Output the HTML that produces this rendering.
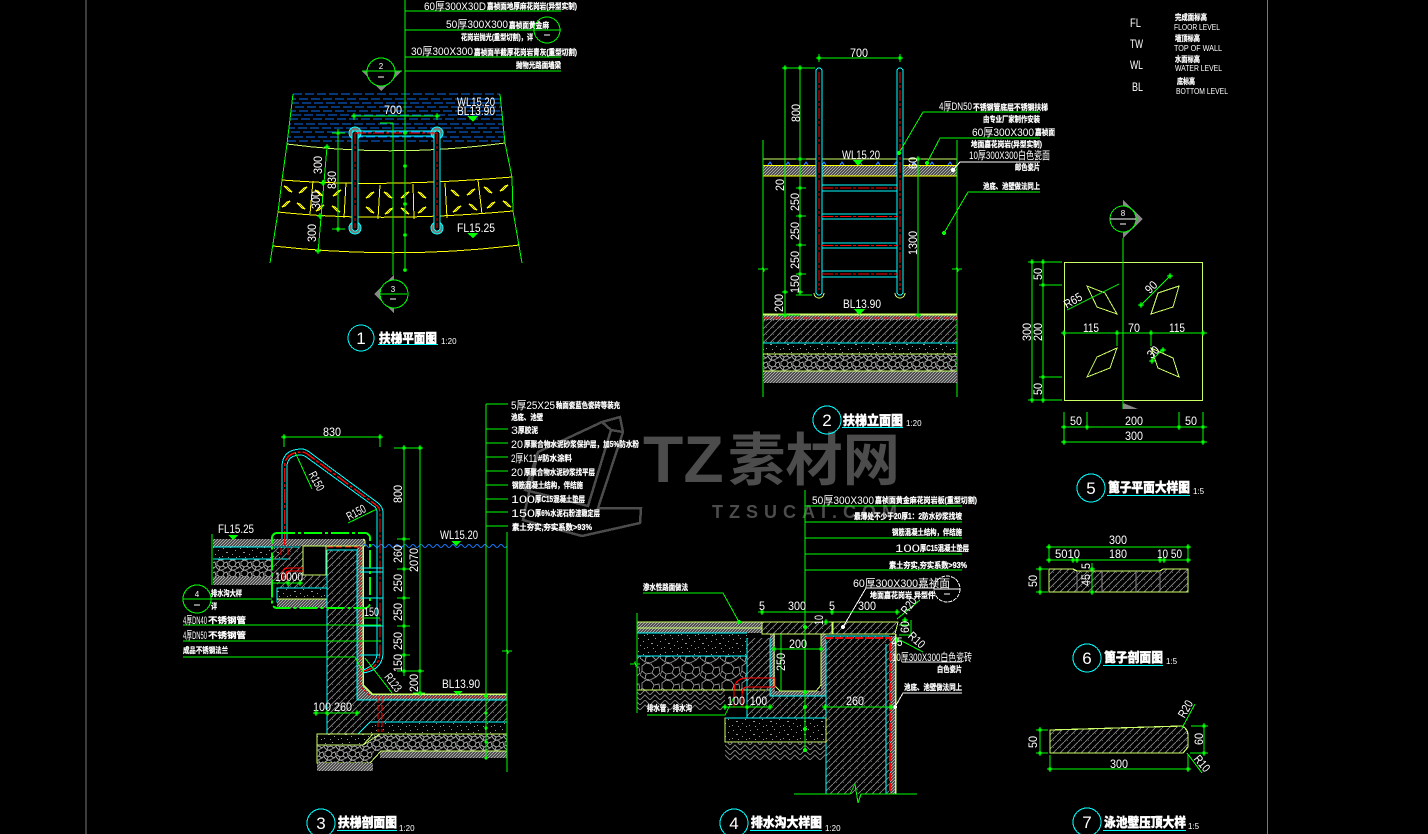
<!DOCTYPE html>
<html><head><meta charset="utf-8"><title>扶梯大样图</title>
<style>
html,body{margin:0;padding:0;background:#000;width:1428px;height:834px;overflow:hidden}
svg{display:block;position:absolute;left:0;top:0}
text{fill:#fff;font-family:"Liberation Sans","Noto Sans CJK SC",sans-serif}
.n{font-size:12px;text-anchor:middle}
.l{font-size:12px}
.c{font-family:"Liberation Sans","Noto Sans CJK SC",sans-serif;font-size:8px;font-weight:700;stroke:#fff;stroke-width:.25}
.t{font-family:"Noto Sans CJK SC",sans-serif;font-size:13px;font-weight:900;stroke:#fff;stroke-width:.4}
.s{font-size:8px}
.big{font-size:17px;text-anchor:middle}
.g{stroke:#0f0;fill:none;stroke-width:1}
.cy{stroke:#0ff;fill:none;stroke-width:1}
.r{stroke:#f00;fill:none;stroke-width:1.4;stroke-dasharray:11 2 3 2}
.y{stroke:#ff0;fill:none;stroke-width:1}
.yg{stroke:#ccff66;fill:none;stroke-width:1}
.w{stroke:#fff;fill:none;stroke-width:1}
</style></head><body>
<svg width="1428" height="834" viewBox="0 0 1428 834" xmlns="http://www.w3.org/2000/svg" shape-rendering="crispEdges">
<defs>
<pattern id="hatch" width="7" height="7" patternUnits="userSpaceOnUse"><path d="M0 7L7 0" stroke="#777" stroke-width="1"/><path d="M3 5h1v1H3z" fill="#555"/></pattern>
<pattern id="dense" width="3" height="3" patternUnits="userSpaceOnUse"><rect width="3" height="3" fill="#505050"/><path d="M0 0h1v1H0zM2 1h1v1H2zM1 2h1v1H1z" fill="#aaa"/></pattern>
<pattern id="conc" width="17" height="13" patternUnits="userSpaceOnUse"><path d="M2 2h1v1H2zM9 1h1v1H9zM14 4h1v1h-1zM5 6h2v1H5zM11 8h1v1h-1zM1 10h1v1H1zM7 11h1v1H7zM15 11h1v1h-1z" fill="#999"/></pattern>
<pattern id="stone" width="20" height="17" patternUnits="userSpaceOnUse"><path d="M2 3L6 0L11 1L14 5L12 10L6 11L2 8ZM14 5L19 4L20 10L16 14L12 10M6 11L5 16L10 17L16 14M2 8L0 12L5 16" fill="none" stroke="#888" stroke-width="1"/></pattern>
<pattern id="stone2" width="12" height="10" patternUnits="userSpaceOnUse"><path d="M1 2L4 0L7 1L8 3L7 6L4 7L1 5ZM8 3L11 2L12 6L10 8L7 6M4 7L3 10L6 10L10 8M1 5L0 7L3 10" fill="none" stroke="#999" stroke-width="1"/></pattern>
<pattern id="herr" width="10" height="10" patternUnits="userSpaceOnUse"><path d="M0 5L5 0L10 5M0 10L5 5L10 10" fill="none" stroke="#777" stroke-width="1"/></pattern>
<path id="t" d="M-3 0H3M0 -3V3M-1 -1H1V1H-1Z" stroke="#0f0" fill="#0f0"/>
<path id="l1" d="M-4 -3L-1 -2L4 3L1 2Z" fill="none" stroke="#ff0"/>
<path id="l2" d="M4 -3L1 -2L-4 3L-1 2Z" fill="none" stroke="#ff0"/>
<path id="br" d="M-5 0H-1L0 -2L1 2L2 0H5" fill="none" stroke="#0f0"/>
</defs>

<!-- frame -->
<path d="M86 0V834M1267.5 0V834" stroke="#777" fill="none"/>

<!-- watermark -->
<g>
<path d="M538 452L602 422L620 417L623 432L598 508L641 508L640 523L582 536L523 520ZM602 422L611 430L623 432M611 430L588 506L525 490L538 452" fill="none" stroke="#4c4c4c" stroke-width="2.5"/>
<text x="643" y="482" style="font-size:66px;font-weight:700;fill:#4c4c4c">TZ</text>
<text x="728" y="480" textLength="172" lengthAdjust="spacingAndGlyphs" style="font-family:'Noto Sans CJK SC',sans-serif;font-size:57px;font-weight:700;fill:#4c4c4c">素材网</text>
<text x="712" y="518" textLength="185" style="font-size:18px;font-weight:700;fill:#4c4c4c">TZSUCAI.COM</text>
</g>

<!-- ========== DIAGRAM 1 ========== -->
<g>
<g stroke="#0a6cf0" fill="none" stroke-dasharray="9 3">
<path d="M293 94H500"/><path d="M292 99H501" stroke-dashoffset="5"/><path d="M292 103H501" stroke-dashoffset="2"/><path d="M291 107H502" stroke-dashoffset="8"/><path d="M291 111H502" stroke-dashoffset="4"/><path d="M290 115H503" stroke-dashoffset="10"/><path d="M290 119H503" stroke-dashoffset="1"/><path d="M289 124H503" stroke-dashoffset="7"/><path d="M289 128H504" stroke-dashoffset="3"/><path d="M288 132H504" stroke-dashoffset="9"/><path d="M288 137H504" stroke-dashoffset="6"/><path d="M287 141H505"/>
</g>
<path class="g" d="M293 94L287 144L282 180L278 212L270 263M500 94L505 143L512 177L513 211L522 263"/>
<path class="yg" d="M287 144Q393 158 505 143"/>
<path class="y" d="M282 180Q380 188 512 177M278 212Q380 223 513 211M273 246Q400 260 519 245"/>
<path class="y" d="M313 181L310 214M346 183L344 218M380 185L378 219M413 184L414 219M445 183L447 218M478 180L482 214"/>
<use href="#l1" x="288" y="189"/><use href="#l2" x="303" y="190"/><use href="#l2" x="286" y="204"/><use href="#l1" x="301" y="206"/>
<use href="#l1" x="319" y="193"/><use href="#l2" x="337" y="193"/><use href="#l2" x="320" y="208"/><use href="#l1" x="336" y="209"/>
<use href="#l2" x="370" y="195"/><use href="#l1" x="388" y="195"/><use href="#l1" x="370" y="210"/><use href="#l2" x="389" y="211"/>
<use href="#l2" x="405" y="195"/><use href="#l1" x="422" y="195"/><use href="#l1" x="405" y="211"/><use href="#l2" x="422" y="210"/>
<use href="#l1" x="455" y="193"/><use href="#l2" x="471" y="192"/><use href="#l2" x="457" y="209"/><use href="#l1" x="473" y="207"/>
<use href="#l1" x="488" y="190"/><use href="#l2" x="504" y="188"/><use href="#l2" x="491" y="205"/><use href="#l1" x="507" y="204"/>
<!-- rails -->
<circle cx="355" cy="133" r="6" fill="#777" stroke="#0ff"/><circle cx="437" cy="133" r="6" fill="#777" stroke="#0ff"/>
<circle cx="355" cy="228" r="6" fill="#777" stroke="#0ff"/><circle cx="437" cy="228" r="6" fill="#777" stroke="#0ff"/>
<rect x="352" y="131" width="6" height="100" rx="3" fill="#000" stroke="#0ff"/><rect x="434" y="131" width="6" height="100" rx="3" fill="#000" stroke="#0ff"/>
<path class="cy" d="M352 131H440M358 136H434"/>
<path class="r" d="M355 133H437M355 133V228M437 133V228"/>
<!-- leader -->
<path class="g" d="M405 0V270M405 11H561M405 30H561M405 57H561M405 71H561"/>
<circle cx="405" cy="133" r="1.8" fill="#0f0"/><circle cx="405" cy="166" r="1.8" fill="#0f0"/><circle cx="405" cy="204" r="1.8" fill="#0f0"/><circle cx="405" cy="235" r="1.8" fill="#0f0"/><circle cx="405" cy="270" r="1.8" fill="#0f0"/>
<text class="l" x="424" y="10" textLength="62" lengthAdjust="spacingAndGlyphs" style="font-size:11px">60厚300X30D</text>
<text class="c" x="487" y="9" textLength="90" lengthAdjust="spacingAndGlyphs">嘉祯面地厚麻花岗岩(异型实制)</text>
<text class="l" x="446" y="28" textLength="62" lengthAdjust="spacingAndGlyphs" style="font-size:11px">50厚300X300</text>
<text class="c" x="509" y="28" textLength="40" lengthAdjust="spacingAndGlyphs">嘉祯面黄金麻</text>
<text class="c" x="461" y="40" textLength="72" lengthAdjust="spacingAndGlyphs">花岗岩抛光(重型切割)，详</text>
<text class="l" x="411" y="55" textLength="62" lengthAdjust="spacingAndGlyphs" style="font-size:11px">30厚300X300</text>
<text class="c" x="474" y="55" textLength="103" lengthAdjust="spacingAndGlyphs">嘉祯面半截厚花岗岩青灰(重型切割)</text>
<text class="c" x="516" y="68" textLength="45" lengthAdjust="spacingAndGlyphs">抛物光路面墙梁</text>
<circle cx="547" cy="30" r="13" fill="none" stroke="#0f0"/><path class="w" d="M544 35H550"/>
<!-- section markers -->
<path d="M362 71H402L381 91Z" fill="#888"/><path d="M362 71H402" stroke="#0f0"/>
<circle cx="381" cy="72" r="14" fill="#000" stroke="#0f0"/><path d="M367 71H395" stroke="#0f0"/>
<text class="s" x="381" y="69" text-anchor="middle">2</text><path class="w" d="M378 77H384"/>
<path class="g" d="M393 123V275M380 123H393"/>
<path d="M374 294L394 275V313Z" fill="#888"/>
<circle cx="394" cy="294" r="14" fill="#000" stroke="#0f0"/><path d="M380 294H407" stroke="#0f0"/>
<text class="s" x="393" y="292" text-anchor="middle">3</text><path class="w" d="M390 299H396"/>
<!-- dims -->
<path class="g" d="M354 116H439M354 113V120M437 113V120M338 129V231M332 133H345M332 229H345M327 147L318 253M322 181H326M318 216H324"/>
<use href="#t" x="354" y="116"/><use href="#t" x="437" y="116"/><use href="#t" x="338" y="133"/><use href="#t" x="338" y="229"/><use href="#t" x="327" y="147"/><use href="#t" x="323" y="183"/><use href="#t" x="320" y="216"/><use href="#t" x="318" y="251"/>
<text class="n" x="393" y="114" textLength="18" lengthAdjust="spacingAndGlyphs">700</text>
<text class="n" transform="translate(322,165) rotate(-90)" textLength="18" lengthAdjust="spacingAndGlyphs">300</text>
<text class="n" transform="translate(336,180) rotate(-90)" textLength="18" lengthAdjust="spacingAndGlyphs">830</text>
<text class="n" transform="translate(320,200) rotate(-90)" textLength="18" lengthAdjust="spacingAndGlyphs">300</text>
<text class="n" transform="translate(316,233) rotate(-90)" textLength="18" lengthAdjust="spacingAndGlyphs">300</text>
<text class="l" x="457" y="106" textLength="38" lengthAdjust="spacingAndGlyphs">WL15.20</text>
<text class="l" x="457" y="115" textLength="38" lengthAdjust="spacingAndGlyphs">BL13.90</text>
<path d="M467 116H478L473 122Z" fill="#0f0"/>
<text class="l" x="457" y="232" textLength="38" lengthAdjust="spacingAndGlyphs">FL15.25</text>
<path d="M467 233H478L473 238Z" fill="#0f0"/>
<!-- title -->
<circle cx="361" cy="338" r="13" fill="none" stroke="#0ff"/>
<text class="big" x="361" y="344">1</text>
<text class="t" x="379" y="343" textLength="58" lengthAdjust="spacingAndGlyphs">扶梯平面图</text>
<path class="cy" d="M378 344.5H438"/>
<text class="s" x="441" y="344">1:20</text>
</g>

<!-- ========== DIAGRAM 2 ========== -->
<g>
<path class="yg" d="M763 159H957"/>
<rect x="763" y="166" width="194" height="10" fill="url(#dense)"/>
<path d="M763 165.5H957" stroke="#ff0" stroke-dasharray="18 0"/><path d="M763 176H957" stroke="#ff0"/>
<path d="M768 165l2-3 2 3M786 165l2-3 2 3M804 165l2-3 2 3M822 165l2-3 2 3M840 165l2-3 2 3M858 165l2-3 2 3M876 165l2-3 2 3M894 165l2-3 2 3M912 165l2-3 2 3M930 165l2-3 2 3M948 165l2-3 2 3" stroke="#2a7cff" fill="none"/>
<path class="g" d="M763 140V397M957 140V397"/>
<use href="#br" x="763" y="269"/><use href="#br" x="957" y="269"/>
<!-- ladder rails -->
<rect x="816" y="68" width="6" height="227" rx="3" fill="#000" stroke="#0ff"/>
<rect x="897" y="68" width="6" height="227" rx="3" fill="#000" stroke="#0ff"/>
<path class="cy" d="M822 185H897M822 191H897M822 214H897M822 219H897M822 243H897M822 248H897M822 271H897M822 277H897"/>
<path class="r" d="M819 72V290M900 72V290"/>
<path class="r" d="M822 188H897M822 216.5H897M822 245.5H897M822 274H897"/>
<path class="yg" d="M814 293A5 5 0 0 0 824 293M895 293A5 5 0 0 0 905 293"/>
<!-- base -->
<rect x="763" y="314" width="194" height="6" fill="url(#dense)"/>
<rect x="763" y="320" width="194" height="23" fill="url(#hatch)"/>
<rect x="763" y="343" width="194" height="11" fill="url(#conc)"/>
<rect x="763" y="354" width="194" height="17" fill="url(#stone2)"/>
<rect x="763" y="371" width="194" height="12" fill="url(#dense)"/>
<path d="M763 314.5H957" stroke="#ccff66" stroke-width="2"/>
<path d="M763 318H957" stroke="#f00" stroke-dasharray="7 3"/>
<path class="cy" d="M763 343H957"/>
<path class="yg" d="M763 354H957M763 371H957"/>
<!-- dims -->
<path class="g" d="M785 65V315M800 65V295M782 68H815M819 58H900M819 54V62M900 54V62M918 157V316M778 315H800M796 188H806M796 216H806M796 245H806M796 274H806M796 159H806M796 295H812"/>
<use href="#t" x="819" y="58"/><use href="#t" x="900" y="58"/><use href="#t" x="785" y="68"/><use href="#t" x="800" y="68"/><use href="#t" x="800" y="159"/><use href="#t" x="800" y="188"/><use href="#t" x="800" y="216"/><use href="#t" x="800" y="245"/><use href="#t" x="800" y="274"/><use href="#t" x="800" y="292"/><use href="#t" x="785" y="292"/><use href="#t" x="785" y="315"/><use href="#t" x="918" y="159"/><use href="#t" x="918" y="315"/>
<text class="n" x="859" y="57" textLength="18" lengthAdjust="spacingAndGlyphs">700</text>
<text class="n" transform="translate(800,113) rotate(-90)" textLength="18" lengthAdjust="spacingAndGlyphs">800</text>
<text class="n" transform="translate(784,185) rotate(-90)" textLength="12" lengthAdjust="spacingAndGlyphs">20</text>
<text class="n" transform="translate(799,202) rotate(-90)" textLength="18" lengthAdjust="spacingAndGlyphs">250</text>
<text class="n" transform="translate(799,231) rotate(-90)" textLength="18" lengthAdjust="spacingAndGlyphs">250</text>
<text class="n" transform="translate(799,260) rotate(-90)" textLength="18" lengthAdjust="spacingAndGlyphs">250</text>
<text class="n" transform="translate(799,284) rotate(-90)" textLength="18" lengthAdjust="spacingAndGlyphs">150</text>
<text class="n" transform="translate(783,303) rotate(-90)" textLength="18" lengthAdjust="spacingAndGlyphs">200</text>
<text class="n" transform="translate(917,243) rotate(-90)" textLength="24" lengthAdjust="spacingAndGlyphs">1300</text>
<text class="n" transform="translate(917,163) rotate(-90)" textLength="12" lengthAdjust="spacingAndGlyphs">60</text>
<text class="l" x="842" y="159" textLength="38" lengthAdjust="spacingAndGlyphs">WL15.20</text>
<path d="M853 160H863L858 166Z" fill="#0f0"/>
<text class="l" x="843" y="308" textLength="38" lengthAdjust="spacingAndGlyphs">BL13.90</text>
<path d="M854 309H865L859 315Z" fill="#0f0"/>
<!-- leaders -->
<path class="g" d="M1040 112H923L899 153M1040 138H940L927 163M1040 192H968L944 233"/>
<path class="w" d="M1040 162H960L953 170"/>
<circle cx="899" cy="153" r="2" fill="#0f0"/><circle cx="927" cy="163" r="2" fill="#0f0"/><circle cx="944" cy="233" r="2" fill="#0f0"/><circle cx="953" cy="170" r="2" fill="#fff"/>
<text class="l" x="939" y="110" textLength="33" lengthAdjust="spacingAndGlyphs" style="font-size:11px">4厚DN50</text>
<text class="c" x="973" y="110" textLength="75" lengthAdjust="spacingAndGlyphs">不锈钢管底层不锈钢扶梯</text>
<text class="c" x="983" y="122" textLength="57" lengthAdjust="spacingAndGlyphs">由专业厂家制作安装</text>
<text class="l" x="972" y="136" textLength="62" lengthAdjust="spacingAndGlyphs" style="font-size:11px">60厚300X300</text>
<text class="c" x="1035" y="135" textLength="20" lengthAdjust="spacingAndGlyphs">嘉祯面</text>
<text class="c" x="971" y="147" textLength="71" lengthAdjust="spacingAndGlyphs">地面嘉花岗岩(异型实制)</text>
<text class="l" x="969" y="159" textLength="81" lengthAdjust="spacingAndGlyphs" style="font-size:11px">10厚300X300白色瓷面</text>
<text class="c" x="1015" y="170" textLength="25" lengthAdjust="spacingAndGlyphs">邮色瓷片</text>
<text class="c" x="983" y="189" textLength="57" lengthAdjust="spacingAndGlyphs">池底、池壁做法同上</text>
<!-- title -->
<circle cx="827" cy="420" r="14" fill="none" stroke="#0ff"/>
<text class="big" x="827" y="426">2</text>
<text class="t" x="843" y="425" textLength="60" lengthAdjust="spacingAndGlyphs">扶梯立面图</text>
<path class="cy" d="M842 427.5H903"/>
<text class="s" x="906" y="426">1:20</text>
</g>

<!-- ========== DIAGRAM 3 ========== -->
<g>
<!-- left ground layers -->
<rect x="213" y="539" width="59" height="8" fill="url(#dense)"/>
<rect x="213" y="547" width="70" height="12" fill="url(#conc)"/>
<rect x="213" y="559" width="60" height="18" fill="url(#stone2)"/>
<rect x="213" y="577" width="60" height="8" fill="url(#dense)"/>
<path class="cy" d="M213 547H300M213 559H290"/>
<path class="g" d="M212 534V585"/>
<rect x="272" y="539" width="93" height="7" fill="url(#dense)"/>
<rect x="272" y="546" width="31" height="37" fill="url(#hatch)"/>
<rect x="303" y="546" width="23" height="29" fill="#000" stroke="#ccff66"/>
<path d="M363 539L365 541V546H303" stroke="#ccff66" fill="none"/>
<rect x="277" y="575" width="50" height="13" fill="url(#hatch)"/>
<rect x="277" y="588" width="50" height="14" fill="url(#conc)" stroke="#0ff"/>
<rect x="277" y="599" width="50" height="9" fill="url(#dense)"/>
<path class="yg" d="M277 599H327"/>
<!-- wall -->
<path d="M327 550H357V700H507V722H370L358 734H327Z" fill="url(#hatch)"/>
<path d="M357 546H363V685L372 694H507V700H357Z" fill="url(#dense)"/>
<path d="M327 550H357V700H507M327 550V734H358L370 722H507" class="cy"/>
<path d="M363 546V685L372 694H507" stroke="#ccff66" stroke-width="1.5" fill="none"/>
<path d="M360 547V686L371 697H507" stroke="#f00" stroke-dasharray="3 2" stroke-width="1.2" fill="none"/>
<path d="M327 547H360" stroke="#f00" stroke-dasharray="6 3"/>
<rect x="370" y="722" width="137" height="12" fill="url(#conc)"/>
<rect x="374" y="734" width="133" height="17" fill="url(#stone2)"/>
<rect x="380" y="751" width="127" height="7" fill="url(#dense)"/>
<path d="M317 734H373L363 745H317Z" fill="url(#conc)" stroke="#ccff66"/>
<path d="M317 745H363L380 734M317 745V763H370L381 751H507M373 734H507" class="yg"/>
<path d="M317 745H363L374 736V751L370 763H317Z" fill="url(#stone2)"/>
<rect x="317" y="763" width="56" height="8" fill="url(#dense)"/>
<path d="M378 697V732M382 697V732" stroke="#f00" stroke-dasharray="6 2" fill="none"/>
<!-- water -->
<path d="M363 546q2-3 4 0t4 0 4 0 4 0 4 0 4 0 4 0 4 0 4 0 4 0 4 0 4 0 4 0 4 0 4 0 4 0 4 0 4 0 4 0 4 0 4 0 4 0 4 0 4 0 4 0 4 0 4 0 4 0 4 0 4 0 4 0 4 0 4 0 4 0 4 0 4 0" stroke="#1a7cff" fill="none" shape-rendering="auto"/>
<!-- handrail -->
<path class="cy" d="M282 539V467Q282 449 302 449Q306 449 312 454L378 503Q383 507 383 513V652Q383 670 363 673"/>
<path class="cy" d="M287 539V467Q287 455 301 455Q304 455 309 459L375 507Q377 509 377 513V653Q377 665 363 670"/>
<path d="M284.5 545V467Q285 452 302 452Q305 452 310 456L376 505Q380 508 380 513V652Q380 668 363 671" stroke="#f00" stroke-width="1.4" stroke-dasharray="14 2 3 2" fill="none"/>
<path d="M360 568H383M360 572H383M360 598H383M360 626H383M360 655H380" class="cy"/>
<!-- pipe -->
<path d="M283 580V572Q283 568 288 568H303M286 580V574Q286 571 290 571H303M281 548V555M288 548V555" stroke="#f00" stroke-width="1.3" fill="none"/>
<!-- dashdot rect -->
<rect x="272" y="533" width="98" height="75" rx="5" fill="none" stroke="#0f0" stroke-width="2" stroke-dasharray="18 3 3 3"/>
<!-- dims -->
<path class="g" d="M284 437H381M284 434V447M380 434V447M404 448V676M420 448V694M394 448H423M397 539H410M397 569H410M397 598H410M397 626H410M397 655H410M397 671H424M413 693H425M486 404V758M486 404H508M486 429V429M486 429H508M486 443H508M486 457H508M486 471H508M486 485H508M486 499H508M486 512H508M486 526H508M507 532V772"/>
<use href="#t" x="284" y="437"/><use href="#t" x="380" y="437"/><use href="#t" x="404" y="448"/><use href="#t" x="420" y="448"/><use href="#t" x="404" y="539"/><use href="#t" x="404" y="569"/><use href="#t" x="404" y="598"/><use href="#t" x="404" y="626"/><use href="#t" x="404" y="655"/><use href="#t" x="404" y="671"/><use href="#t" x="420" y="671"/><use href="#t" x="420" y="693"/>
<circle cx="486" cy="696" r="2" fill="#0f0"/><circle cx="486" cy="713" r="1.5" fill="#0f0"/><circle cx="486" cy="728" r="1.5" fill="#0f0"/><circle cx="486" cy="742" r="1.5" fill="#0f0"/><circle cx="486" cy="758" r="1.5" fill="#0f0"/>
<use href="#br" x="507" y="651"/>
<text class="n" x="332" y="436" textLength="18" lengthAdjust="spacingAndGlyphs">830</text>
<text class="n" transform="translate(402,494) rotate(-90)" textLength="18" lengthAdjust="spacingAndGlyphs">800</text>
<text class="n" transform="translate(402,554) rotate(-90)" textLength="18" lengthAdjust="spacingAndGlyphs">260</text>
<text class="n" transform="translate(402,583) rotate(-90)" textLength="18" lengthAdjust="spacingAndGlyphs">250</text>
<text class="n" transform="translate(402,612) rotate(-90)" textLength="18" lengthAdjust="spacingAndGlyphs">250</text>
<text class="n" transform="translate(402,641) rotate(-90)" textLength="18" lengthAdjust="spacingAndGlyphs">250</text>
<text class="n" transform="translate(402,663) rotate(-90)" textLength="18" lengthAdjust="spacingAndGlyphs">150</text>
<text class="n" transform="translate(418,560) rotate(-90)" textLength="24" lengthAdjust="spacingAndGlyphs">2070</text>
<text class="n" transform="translate(418,683) rotate(-90)" textLength="18" lengthAdjust="spacingAndGlyphs">200</text>
<text class="l" x="440" y="539" textLength="38" lengthAdjust="spacingAndGlyphs">WL15.20</text>
<path d="M451 541H461L456 546Z" fill="#0f0"/>
<text class="l" x="442" y="688" textLength="38" lengthAdjust="spacingAndGlyphs">BL13.90</text>
<path d="M453 691H463L458 695Z" fill="#0f0"/>
<text class="l" x="218" y="533" textLength="36" lengthAdjust="spacingAndGlyphs">FL15.25</text>
<path d="M228 535H238L233 540Z" fill="#0f0"/>
<text class="l" x="275" y="581" textLength="28" lengthAdjust="spacingAndGlyphs">10000</text>
<path class="g" d="M273 583H303"/><use href="#t" x="288" y="583"/><use href="#t" x="300" y="583"/>
<text class="l" x="364" y="616" textLength="15" lengthAdjust="spacingAndGlyphs">150</text>
<path class="g" d="M363 618H380M183 625H381M183 641H381M183 657H355L363 672"/>
<path class="g" d="M295 452L312 489M377 509L348 523M365 658L392 693"/>
<text class="n" transform="translate(313,483) rotate(62)" textLength="20" lengthAdjust="spacingAndGlyphs">R150</text>
<text class="n" transform="translate(358,516) rotate(-28)" textLength="20" lengthAdjust="spacingAndGlyphs">R150</text>
<text class="n" transform="translate(390,685) rotate(52)" textLength="20" lengthAdjust="spacingAndGlyphs">R123</text>
<text class="l" x="313" y="711" textLength="39" lengthAdjust="spacingAndGlyphs">100 260</text>
<path class="g" d="M314 713H358"/><use href="#t" x="316" y="713"/><use href="#t" x="327" y="713"/><use href="#t" x="357" y="713"/>
<!-- marker 4 -->
<circle cx="197" cy="599" r="14" fill="none" stroke="#0f0"/><path class="g" d="M183 599H272"/>
<text class="s" x="197" y="597" text-anchor="middle">4</text><path class="w" d="M194 605H200"/>
<text class="c" x="211" y="596" textLength="31" lengthAdjust="spacingAndGlyphs">排水沟大样</text>
<text class="c" x="211" y="609" textLength="6" lengthAdjust="spacingAndGlyphs">详</text>
<text class="l" x="183" y="624" textLength="24" lengthAdjust="spacingAndGlyphs" style="font-size:11px">4厚DN40</text>
<text class="c" x="208" y="623" textLength="38" lengthAdjust="spacingAndGlyphs">不锈钢管</text>
<text class="l" x="183" y="639" textLength="24" lengthAdjust="spacingAndGlyphs" style="font-size:11px">4厚DN50</text>
<text class="c" x="208" y="638" textLength="38" lengthAdjust="spacingAndGlyphs">不锈钢管</text>
<text class="c" x="183" y="653" textLength="45" lengthAdjust="spacingAndGlyphs">成品不锈钢法兰</text>
<!-- right spec -->
<text class="l" x="511" y="409" textLength="44" lengthAdjust="spacingAndGlyphs" style="font-size:11px">5厚25X25</text>
<text class="c" x="556" y="408" textLength="64" lengthAdjust="spacingAndGlyphs">釉面瓷蓝色瓷砖等装充</text>
<text class="c" x="511" y="420" textLength="32" lengthAdjust="spacingAndGlyphs">池底、池壁</text>
<text class="l" x="511" y="434" textLength="7" lengthAdjust="spacingAndGlyphs" style="font-size:11px">3</text>
<text class="c" x="518" y="433" textLength="20" lengthAdjust="spacingAndGlyphs">厚胶泥</text>
<text class="l" x="511" y="448" textLength="12" lengthAdjust="spacingAndGlyphs" style="font-size:11px">20</text>
<text class="c" x="524" y="447" textLength="115" lengthAdjust="spacingAndGlyphs">厚聚合物水泥砂浆保护层，加5%防水粉</text>
<text class="l" x="511" y="462" textLength="26" lengthAdjust="spacingAndGlyphs" style="font-size:11px">2厚K11</text>
<text class="c" x="538" y="461" textLength="34" lengthAdjust="spacingAndGlyphs">#防水涂料</text>
<text class="l" x="511" y="476" textLength="12" lengthAdjust="spacingAndGlyphs" style="font-size:11px">20</text>
<text class="c" x="524" y="475" textLength="71" lengthAdjust="spacingAndGlyphs">厚聚合物水泥砂浆找平层</text>
<text class="c" x="512" y="488" textLength="71" lengthAdjust="spacingAndGlyphs">钢筋混凝土结构，伴结施</text>
<text class="l" x="511" y="503" textLength="24" lengthAdjust="spacingAndGlyphs" style="font-size:11px">100</text>
<text class="c" x="535" y="502" textLength="50" lengthAdjust="spacingAndGlyphs">厚C15混凝土垫层</text>
<text class="l" x="511" y="517" textLength="24" lengthAdjust="spacingAndGlyphs" style="font-size:11px">150</text>
<text class="c" x="535" y="516" textLength="65" lengthAdjust="spacingAndGlyphs">厚6%水泥石粉渣稳定层</text>
<text class="c" x="512" y="530" textLength="80" lengthAdjust="spacingAndGlyphs">素土夯实,夯实系数&gt;93%</text>
<!-- title -->
<circle cx="321" cy="823" r="14" fill="none" stroke="#0ff"/>
<text class="big" x="321" y="829">3</text>
<text class="t" x="338" y="827" textLength="59" lengthAdjust="spacingAndGlyphs">扶梯剖面图</text>
<path class="cy" d="M337 830.5H397"/>
<text class="s" x="399" y="831">1:20</text>
</g>

<!-- ========== DIAGRAM 4 ========== -->
<g>
<rect x="637" y="622" width="125" height="6" fill="url(#dense)"/>
<rect x="637" y="628" width="125" height="5" fill="url(#dense)"/>
<rect x="637" y="633" width="110" height="23" fill="url(#conc)"/>
<rect x="637" y="656" width="110" height="34" fill="url(#stone)"/>
<rect x="637" y="690" width="88" height="20" fill="url(#herr)"/>
<path class="yg" d="M637 622H762M637 628H762M637 690H770"/>
<path class="cy" d="M637 633H747M637 656H747"/>
<path class="g" d="M637 613V713"/><use href="#br" x="635" y="664"/>
<!-- hatch -->
<path d="M747 638H770V696H826V636H890V794H826V718H747Z" fill="url(#hatch)"/>
<path d="M770 634H826V696H770Z" fill="url(#conc)"/>
<path d="M770 634H775V685L780 691H816L821 685V634H826V696H770Z" fill="url(#dense)"/>
<rect x="775" y="634" width="46" height="57" fill="#000"/>
<path class="cy" d="M747 638V718H826M826 636H889M826 696V794M770 638V696H826V640"/>
<path class="yg" d="M774 634V685L780 691H816L821 685V634"/>
<path d="M762 622H832V634H762Z" fill="url(#hatch)" stroke="#ccff66"/>
<path d="M833 622H898L895 634H833Z" fill="url(#hatch)" stroke="#ccff66"/>
<rect x="725" y="718" width="101" height="24" fill="url(#conc)" stroke="#ccff66"/>
<path class="cy" d="M725 718H826"/>
<rect x="725" y="742" width="101" height="18" fill="url(#herr)"/>
<rect x="890" y="636" width="5" height="158" fill="url(#dense)"/>
<path d="M825 638H890V794" stroke="#f00" stroke-width="2" stroke-dasharray="8 2" fill="none"/>
<path class="cy" d="M886 644V794"/>
<path d="M895.5 634V794" stroke="#ccff66" stroke-width="1.5"/>
<path class="g" d="M794 794H850L855 784L858 803L861 794H917"/>
<path d="M734 707V690Q735 678 747 678H775V687H746Q742 688 742 695V707H734Z" stroke="#f00" stroke-width="1.3" fill="none"/>
<!-- leaders -->
<path class="g" d="M805 490V750M805 506H962M805 522H962M805 538H962M805 554H962M805 570H962"/>
<circle cx="805" cy="627" r="2" fill="#0f0"/><circle cx="805" cy="692" r="2" fill="#0f0"/><circle cx="805" cy="707" r="2" fill="#0f0"/><circle cx="805" cy="729" r="2" fill="#0f0"/><circle cx="805" cy="750" r="2" fill="#0f0"/>
<text class="l" x="812" y="504" textLength="62" lengthAdjust="spacingAndGlyphs" style="font-size:11px">50厚300X300</text>
<text class="c" x="875" y="503" textLength="102" lengthAdjust="spacingAndGlyphs">嘉祯面黄金麻花岗岩板(重型切割)</text>
<text class="c" x="854" y="519" textLength="108" lengthAdjust="spacingAndGlyphs">最薄处不少于20厚1：2防水砂浆找坡</text>
<text class="c" x="892" y="535" textLength="70" lengthAdjust="spacingAndGlyphs">钢筋混凝土结构，伴结施</text>
<text class="l" x="895" y="552" textLength="25" lengthAdjust="spacingAndGlyphs" style="font-size:11px">100</text>
<text class="c" x="920" y="551" textLength="49" lengthAdjust="spacingAndGlyphs">厚C15混凝土垫层</text>
<text class="c" x="889" y="568" textLength="78" lengthAdjust="spacingAndGlyphs">素土夯实,夯实系数&gt;93%</text>
<path class="g" d="M643 593H723L739 622"/><circle cx="739" cy="622" r="2" fill="#0f0"/>
<text class="c" x="643" y="590" textLength="45" lengthAdjust="spacingAndGlyphs">渗水性路面做法</text>
<path class="g" d="M647 715H725L734 697"/>
<text class="c" x="647" y="711" textLength="45" lengthAdjust="spacingAndGlyphs">排水管，排水沟</text>
<path class="w" d="M934 588H866L843 627"/><circle cx="843" cy="627" r="2" fill="#fff"/>
<circle cx="947" cy="589" r="13" fill="#000" stroke="#fff" stroke-dasharray="4 1"/><path class="w" d="M934 589H960M944 594H950"/>
<text class="l" x="853" y="587" textLength="97" lengthAdjust="spacingAndGlyphs" style="font-size:11px">60厚300X300嘉祯面</text>
<text class="c" x="870" y="598" textLength="65" lengthAdjust="spacingAndGlyphs">地面嘉花岗岩 异型件</text>
<text class="l" x="892" y="661" textLength="80" lengthAdjust="spacingAndGlyphs" style="font-size:11px">10厚300X300白色瓷砖</text>
<path class="w" d="M902 662H962"/>
<text class="c" x="937" y="672" textLength="25" lengthAdjust="spacingAndGlyphs">白色瓷片</text>
<text class="c" x="904" y="690" textLength="58" lengthAdjust="spacingAndGlyphs">池底、池壁做法同上</text>
<path class="w" d="M962 693H903L895 707"/><circle cx="895" cy="707" r="2" fill="#fff"/>
<!-- dims -->
<path class="g" d="M758 612H900M774 649H821M781 634V691M725 707H770M825 707H893M897 619L920 600M899 625H910M911 620V635M899 635H910M900 640L923 652"/>
<use href="#t" x="762" y="612"/><use href="#t" x="832" y="612"/><use href="#t" x="826" y="622"/><use href="#t" x="897" y="612"/><use href="#t" x="774" y="649"/><use href="#t" x="821" y="649"/><use href="#t" x="725" y="707"/><use href="#t" x="747" y="707"/><use href="#t" x="770" y="707"/><use href="#t" x="825" y="707"/><use href="#t" x="891" y="707"/><use href="#t" x="905" y="620"/><use href="#t" x="897" y="640"/>
<text class="n" x="762" y="610" textLength="6" lengthAdjust="spacingAndGlyphs">5</text>
<text class="n" x="797" y="610" textLength="18" lengthAdjust="spacingAndGlyphs">300</text>
<text class="n" x="832" y="610" textLength="6" lengthAdjust="spacingAndGlyphs">5</text>
<text class="n" x="867" y="610" textLength="18" lengthAdjust="spacingAndGlyphs">300</text>
<text class="n" transform="translate(823,620) rotate(-90)" textLength="10" lengthAdjust="spacingAndGlyphs">10</text>
<text class="n" x="798" y="648" textLength="18" lengthAdjust="spacingAndGlyphs">200</text>
<text class="n" transform="translate(785,662) rotate(-90)" textLength="18" lengthAdjust="spacingAndGlyphs">250</text>
<text class="l" x="727" y="705" textLength="18" lengthAdjust="spacingAndGlyphs">100</text>
<text class="l" x="750" y="705" textLength="17" lengthAdjust="spacingAndGlyphs">100</text>
<text class="n" x="855" y="705" textLength="18" lengthAdjust="spacingAndGlyphs">260</text>
<text class="n" transform="translate(912,608) rotate(-52)" textLength="18" lengthAdjust="spacingAndGlyphs">R20</text>
<text class="n" transform="translate(909,627) rotate(-90)" textLength="12" lengthAdjust="spacingAndGlyphs">60</text>
<text class="n" transform="translate(914,643) rotate(42)" textLength="18" lengthAdjust="spacingAndGlyphs">R10</text>
<text class="n" x="897" y="646" textLength="11" lengthAdjust="spacingAndGlyphs">45</text>
<!-- title -->
<circle cx="734" cy="823" r="14" fill="none" stroke="#0ff"/>
<text class="big" x="734" y="829">4</text>
<text class="t" x="751" y="827" textLength="71" lengthAdjust="spacingAndGlyphs">排水沟大样图</text>
<path class="cy" d="M750 830.5H822"/>
<text class="s" x="825" y="831">1:20</text>
</g>

<!-- ========== DIAGRAM 5 ========== -->
<g>
<rect x="1064.5" y="262.5" width="138" height="138" fill="none" stroke="#ccff66" stroke-width="1.2"/>
<path d="M1123 200L1143 219L1123 238Z" fill="#888"/>
<circle cx="1123" cy="219" r="13" fill="#000" stroke="#0f0"/><path class="w" d="M1110 219H1136"/>
<text class="s" x="1123" y="216" text-anchor="middle">8</text><path class="w" d="M1120 224H1126"/>
<path class="g" d="M1123 238V409"/>
<path d="M1123 403L1138 409H1123Z" fill="#888"/>
<path class="yg" d="M1087 286L1105 293L1117 314L1097 307ZM1179 286L1173 307L1151 314L1158 293ZM1117 348L1110 368L1087 377L1097 357ZM1151 348L1173 358L1179 377L1158 368Z"/>
<path class="g" d="M1062 333H1207M1032 260V403M1043 260V403M1028 262H1062M1039 285H1062M1039 377H1062M1028 400H1062M1062 427H1207M1062 442H1207M1064 412V444M1087 412V430M1179 412V430M1203 412V444M1117 333V346M1151 333V346M1067 310L1119 284M1141 305L1170 276M1151 361L1163 349"/>
<use href="#t" x="1064" y="333"/><use href="#t" x="1117" y="333"/><use href="#t" x="1151" y="333"/><use href="#t" x="1203" y="333"/><use href="#t" x="1032" y="262"/><use href="#t" x="1043" y="262"/><use href="#t" x="1043" y="285"/><use href="#t" x="1043" y="377"/><use href="#t" x="1032" y="400"/><use href="#t" x="1043" y="400"/><use href="#t" x="1064" y="427"/><use href="#t" x="1087" y="427"/><use href="#t" x="1179" y="427"/><use href="#t" x="1203" y="427"/><use href="#t" x="1064" y="442"/><use href="#t" x="1203" y="442"/><use href="#t" x="1141" y="305"/><use href="#t" x="1170" y="276"/><use href="#t" x="1152" y="361"/><use href="#t" x="1163" y="350"/>
<text class="n" x="1091" y="332" textLength="16" lengthAdjust="spacingAndGlyphs">115</text>
<text class="n" x="1134" y="332" textLength="12" lengthAdjust="spacingAndGlyphs">70</text>
<text class="n" x="1177" y="332" textLength="16" lengthAdjust="spacingAndGlyphs">115</text>
<text class="n" transform="translate(1031,332) rotate(-90)" textLength="18" lengthAdjust="spacingAndGlyphs">300</text>
<text class="n" transform="translate(1042,332) rotate(-90)" textLength="18" lengthAdjust="spacingAndGlyphs">200</text>
<text class="n" transform="translate(1042,274) rotate(-90)" textLength="12" lengthAdjust="spacingAndGlyphs">50</text>
<text class="n" transform="translate(1042,389) rotate(-90)" textLength="12" lengthAdjust="spacingAndGlyphs">50</text>
<text class="n" x="1076" y="425" textLength="12" lengthAdjust="spacingAndGlyphs">50</text>
<text class="n" x="1134" y="425" textLength="18" lengthAdjust="spacingAndGlyphs">200</text>
<text class="n" x="1191" y="425" textLength="12" lengthAdjust="spacingAndGlyphs">50</text>
<text class="n" x="1134" y="440" textLength="18" lengthAdjust="spacingAndGlyphs">300</text>
<text class="n" transform="translate(1075,304) rotate(-30)" textLength="19" lengthAdjust="spacingAndGlyphs">R65</text>
<text class="n" transform="translate(1154,290) rotate(-45)" textLength="12" lengthAdjust="spacingAndGlyphs">90</text>
<text class="n" transform="translate(1156,355) rotate(-45)" textLength="12" lengthAdjust="spacingAndGlyphs">30</text>
<circle cx="1091" cy="488" r="14" fill="none" stroke="#0ff"/>
<text class="big" x="1091" y="494">5</text>
<text class="t" x="1108" y="492" textLength="82" lengthAdjust="spacingAndGlyphs">篦子平面大样图</text>
<path class="cy" d="M1107 495.5H1190"/>
<text class="s" x="1193" y="494">1:5</text>
</g>

<!-- ========== DIAGRAM 6 ========== -->
<g>
<path d="M1049 569H1073L1077 571H1160L1163 569H1188V592H1049Z" fill="url(#hatch)" stroke="#ccff66" stroke-width="1.2"/>
<path d="M1077 571V592M1092 571V592M1102 571V592M1136 571V592M1160 571V592" stroke="#888" fill="none"/>
<path class="g" d="M1049 547H1188M1049 560H1188M1040 567V594M1036 569H1048M1036 592H1048M1092 563V594M1049 544V562M1188 544V562"/>
<use href="#t" x="1049" y="547"/><use href="#t" x="1188" y="547"/><use href="#t" x="1049" y="560"/><use href="#t" x="1073" y="560"/><use href="#t" x="1077" y="560"/><use href="#t" x="1160" y="560"/><use href="#t" x="1164" y="560"/><use href="#t" x="1188" y="560"/><use href="#t" x="1040" y="569"/><use href="#t" x="1040" y="592"/><use href="#t" x="1092" y="569"/><use href="#t" x="1092" y="592"/>
<text class="n" x="1118" y="544" textLength="18" lengthAdjust="spacingAndGlyphs">300</text>
<text class="l" x="1055" y="558" textLength="25" lengthAdjust="spacingAndGlyphs">5010</text>
<text class="n" x="1118" y="558" textLength="18" lengthAdjust="spacingAndGlyphs">180</text>
<text class="l" x="1157" y="558" textLength="25" lengthAdjust="spacingAndGlyphs">10 50</text>
<text class="n" transform="translate(1037,581) rotate(-90)" textLength="12" lengthAdjust="spacingAndGlyphs">50</text>
<text class="n" transform="translate(1090,580) rotate(-90)" textLength="12" lengthAdjust="spacingAndGlyphs">45</text>
<text class="n" transform="translate(1090,566) rotate(-90)" textLength="6" lengthAdjust="spacingAndGlyphs">5</text>
<circle cx="1087" cy="658" r="14" fill="none" stroke="#0ff"/>
<text class="big" x="1087" y="664">6</text>
<text class="t" x="1104" y="662" textLength="59" lengthAdjust="spacingAndGlyphs">篦子剖面图</text>
<path class="cy" d="M1103 665.5H1163"/>
<text class="s" x="1166" y="664">1:5</text>
</g>

<!-- ========== DIAGRAM 7 ========== -->
<g>
<path d="M1050 730L1182 726Q1188 729 1188 735V747L1183 753H1050Z" fill="url(#hatch)" stroke="#ccff66" stroke-width="1.2"/>
<path class="g" d="M1050 769H1188M1050 755V772M1188 755V772M1040 728V755M1036 730H1048M1036 753H1048M1204 724V755M1191 726H1208M1190 753H1208M1195 704L1182 728M1187 753L1202 773"/>
<use href="#t" x="1050" y="769"/><use href="#t" x="1188" y="769"/><use href="#t" x="1040" y="730"/><use href="#t" x="1040" y="753"/><use href="#t" x="1204" y="726"/><use href="#t" x="1204" y="753"/>
<text class="n" x="1119" y="768" textLength="18" lengthAdjust="spacingAndGlyphs">300</text>
<text class="n" transform="translate(1037,742) rotate(-90)" textLength="12" lengthAdjust="spacingAndGlyphs">50</text>
<text class="n" transform="translate(1203,739) rotate(-90)" textLength="12" lengthAdjust="spacingAndGlyphs">60</text>
<text class="n" transform="translate(1189,711) rotate(-60)" textLength="18" lengthAdjust="spacingAndGlyphs">R20</text>
<text class="n" transform="translate(1199,766) rotate(50)" textLength="18" lengthAdjust="spacingAndGlyphs">R10</text>
<circle cx="1087" cy="822" r="14" fill="none" stroke="#0ff"/>
<text class="big" x="1087" y="828">7</text>
<text class="t" x="1104" y="827" textLength="82" lengthAdjust="spacingAndGlyphs">泳池壁压顶大样</text>
<path class="cy" d="M1103 830.5H1186"/>
<text class="s" x="1188" y="829">1:5</text>
</g>

<!-- ========== LEGEND ========== -->
<g>
<text class="l" x="1130" y="27" textLength="11" lengthAdjust="spacingAndGlyphs">FL</text>
<text class="l" x="1130" y="48" textLength="13" lengthAdjust="spacingAndGlyphs">TW</text>
<text class="l" x="1130" y="69" textLength="13" lengthAdjust="spacingAndGlyphs">WL</text>
<text class="l" x="1132" y="91" textLength="11" lengthAdjust="spacingAndGlyphs">BL</text>
<text class="c" x="1175" y="20" textLength="32" lengthAdjust="spacingAndGlyphs">完成面标高</text>
<text class="s" x="1174" y="30" textLength="46" lengthAdjust="spacingAndGlyphs">FLOOR LEVEL</text>
<text class="c" x="1175" y="41" textLength="25" lengthAdjust="spacingAndGlyphs">墙顶标高</text>
<text class="s" x="1174" y="51" textLength="48" lengthAdjust="spacingAndGlyphs">TOP OF WALL</text>
<text class="c" x="1175" y="62" textLength="25" lengthAdjust="spacingAndGlyphs">水面标高</text>
<text class="s" x="1175" y="71" textLength="47" lengthAdjust="spacingAndGlyphs">WATER LEVEL</text>
<text class="c" x="1177" y="84" textLength="18" lengthAdjust="spacingAndGlyphs">底标高</text>
<text class="s" x="1176" y="94" textLength="52" lengthAdjust="spacingAndGlyphs">BOTTOM LEVEL</text>
</g>
</svg>
</body></html>
